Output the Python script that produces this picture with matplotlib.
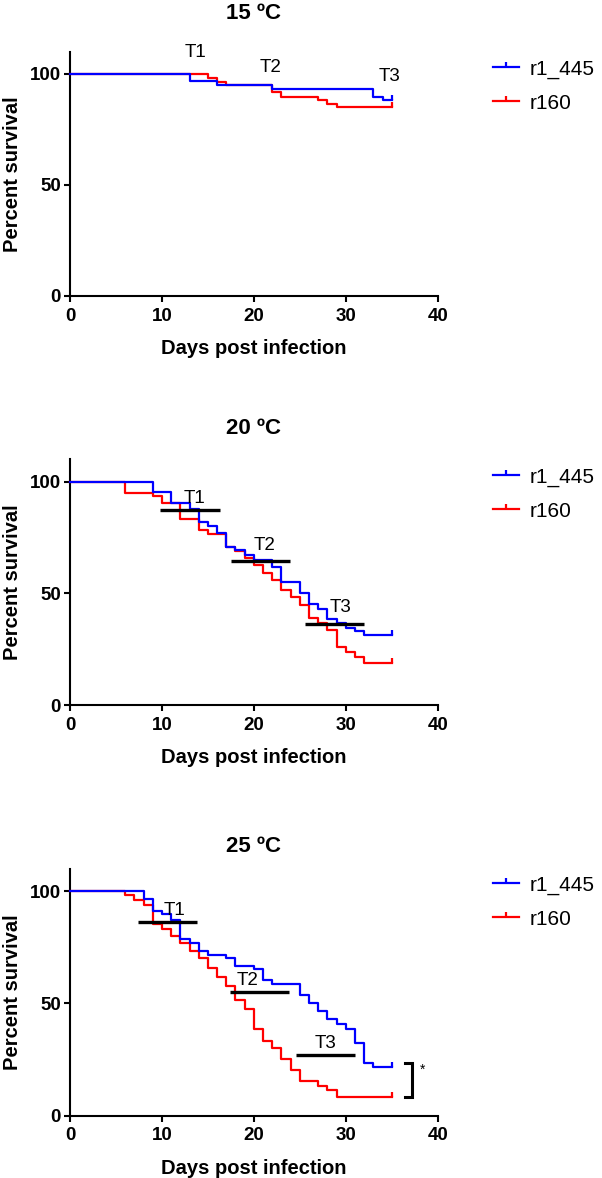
import matplotlib
matplotlib.use("Agg")
import matplotlib.pyplot as plt
from matplotlib.path import Path
from matplotlib.lines import Line2D

plt.rcParams['font.family'] = ['Liberation Sans', 'DejaVu Sans']

# ---------------- data ----------------
titles = ["15 \u00baC", "20 \u00baC", "25 \u00baC"]
series_names = ["r1_445", "r160"]
series_colors = ["#0000FF", "#FF0000"]

# 15 C
blue15_days = [0, 13, 16, 22, 33, 34, 35]
blue15_surv = [100, 96.7, 95.0, 93.3, 89.8, 88.3, 88.3]
red15_days = [0, 15, 16, 17, 22, 23, 27, 28, 29, 35]
red15_surv = [100, 98.3, 96.6, 95.2, 92.0, 89.8, 88.3, 86.6, 84.9, 84.9]

# 20 C
blue20_days = [0, 9, 11, 13, 14, 15, 16, 17, 18, 19, 20, 22, 23, 25, 26, 27, 28, 29, 30, 31, 32, 35]
blue20_surv = [100, 95.4, 90.3, 87.9, 82.1, 80.2, 76.9, 70.9, 69.4, 67.0, 65.0, 62.0, 55.2, 50.3,
               45.4, 43.0, 38.4, 36.6, 34.4, 33.2, 31.4, 31.4]
red20_days = [0, 6, 9, 10, 12, 14, 15, 17, 18, 19, 20, 21, 22, 23, 24, 25, 26, 27, 28, 29, 30, 31, 32, 35]
red20_surv = [100, 95.1, 93.8, 90.3, 83.5, 78.6, 76.8, 70.6, 69.2, 65.7, 62.6, 59.0, 56.0, 51.5,
              48.4, 44.8, 38.8, 36.6, 33.6, 26.1, 23.6, 21.6, 19.0, 19.0]

# 25 C
blue25_days = [0, 8, 9, 10, 11, 12, 13, 14, 15, 17, 18, 20, 21, 22, 25, 26, 27, 28, 29, 30, 31, 32, 33, 35]
blue25_surv = [100, 96.6, 91.2, 89.6, 87.2, 78.5, 76.7, 73.4, 71.5, 70.0, 66.8, 65.2, 60.2, 58.5,
               53.5, 50.2, 46.6, 43.2, 40.7, 38.4, 32.2, 23.4, 21.8, 21.8]
red25_days = [0, 6, 7, 8, 9, 10, 11, 12, 13, 14, 15, 16, 17, 18, 19, 20, 21, 22, 23, 24, 25, 27, 28, 29, 35]
red25_surv = [100, 98.2, 96.0, 94.0, 85.4, 83.0, 80.0, 76.7, 73.3, 70.0, 65.8, 61.8, 57.9, 51.6,
              47.3, 38.4, 33.2, 30.2, 25.2, 20.2, 15.3, 13.2, 11.4, 8.4, 8.4]

panel_days = [(blue15_days, red15_days), (blue20_days, red20_days), (blue25_days, red25_days)]
panel_surv = [(blue15_surv, red15_surv), (blue20_surv, red20_surv), (blue25_surv, red25_surv)]

# time-point labels  (label, x, y)
t_labels = [
    [("T1", 13.6, 109.6), ("T2", 21.8, 102.9), ("T3", 34.8, 98.8)],
    [("T1", 13.5, 92.4), ("T2", 21.2, 71.3), ("T3", 29.4, 43.5)],
    [("T1", 11.4, 91.5), ("T2", 19.35, 60.2), ("T3", 27.8, 32.0)],
]
# time-point bars (x0, x1, y)
t_bars = [
    [],
    [(9.8, 16.3, 87.4), (17.5, 23.9, 64.7), (25.6, 32.0, 36.3)],
    [(7.4, 13.8, 86.3), (17.4, 23.8, 54.9), (24.6, 31.0, 27.0)],
]
# significance bracket on 25 C panel
bracket_x = [36.45, 37.2]
bracket_y = [23.3, 8.1]

x_ticks = [0, 10, 20, 30, 40]
y_ticks = [0, 50, 100]

# ---------------- layout (pixels) ----------------
W, H = 602, 1178
LEFT, RIGHT = 70, 437.7
panel_top = [51.8, 459.5, 868.6]
panel_bot = [295.7, 705.0, 1115.6]
title_y = [13.0, 429.0, 847.0]
legend_y = [68.0, 476.0, 884.0]

TICK = Path([(0, 0), (0, 1)], [Path.MOVETO, Path.LINETO])

fig = plt.figure(figsize=(W / 100, H / 100), dpi=100)

LEG_FS = 15
LEG_PX = LEG_FS * 100 / 72

for i in range(3):
    top, bot = panel_top[i], panel_bot[i]
    ax = fig.add_axes([LEFT / W, 1 - bot / H, (RIGHT - LEFT) / W, (bot - top) / H])
    ax.set_xlim(0, 40)
    ax.set_ylim(0, 110)
    for s in ['top', 'right']:
        ax.spines[s].set_visible(False)
    for s in ['left', 'bottom']:
        ax.spines[s].set_linewidth(1.5)
    ax.set_xticks(x_ticks)
    ax.set_yticks(y_ticks)
    ax.tick_params(axis='both', direction='out', length=4, width=1.5, labelsize=13.5)
    ax.tick_params(axis='x', pad=4.5)
    ax.tick_params(axis='y', pad=2.5)
    for lab in ax.get_xticklabels() + ax.get_yticklabels():
        lab.set_fontweight('bold')

    # curves: red first, blue on top
    for k in [1, 0]:
        d = panel_days[i][k]
        s = panel_surv[i][k]
        ax.step(d, s, where='post', color=series_colors[k], lw=1.6, clip_on=False, zorder=3 + (1 - k))
        ax.plot([d[-1]], [s[-1]], linestyle='none', marker=TICK, ms=7, mew=1.6,
                color=series_colors[k], clip_on=False, zorder=3 + (1 - k))

    for (x0, x1, y) in t_bars[i]:
        ax.plot([x0, x1], [y, y], color='black', lw=2.4, solid_capstyle='butt', zorder=6)
    for (lab, x, y) in t_labels[i]:
        ax.text(x, y, lab, ha='center', va='center', fontsize=13.5, zorder=7, clip_on=False)

    ph = bot - top
    ax.text(0.5, (bot - title_y[i]) / ph, titles[i], transform=ax.transAxes,
            ha='center', va='center', fontsize=16, fontweight='bold')

    ax.set_xlabel("Days post infection", fontsize=14.5, fontweight='bold')
    ax.xaxis.set_label_coords(0.5, -52.6 / ph)
    ax.xaxis.label.set_va('center')
    ax.set_ylabel("Percent survival", fontsize=14.5, fontweight='bold')
    ax.yaxis.set_label_coords((13 - LEFT) / (RIGHT - LEFT), 0.5)
    ax.yaxis.label.set_va('center')

    handles = [Line2D([], [], color=series_colors[k], lw=1.6, marker=TICK, ms=7, mew=1.6)
               for k in range(2)]
    anchor_y = (bot - (legend_y[i] - 0.6 * LEG_PX + 4)) / ph
    ax.legend(handles, series_names, loc='upper left', frameon=False, fontsize=LEG_FS,
              bbox_to_anchor=((493 - LEFT) / (RIGHT - LEFT), anchor_y),
              borderaxespad=0, borderpad=0, handlelength=26 / LEG_PX, handletextpad=11 / LEG_PX,
              labelspacing=0.72, numpoints=1)

    if i == 2:
        ax.plot([bracket_x[0], bracket_x[1], bracket_x[1], bracket_x[0]],
                [bracket_y[0], bracket_y[0], bracket_y[1], bracket_y[1]],
                color='black', lw=2.2, clip_on=False, solid_joinstyle='miter')
        ax.text(38.3, 20.3, "*", ha='center', va='center', fontsize=10, clip_on=False)

fig.savefig("out.png", dpi=100)
